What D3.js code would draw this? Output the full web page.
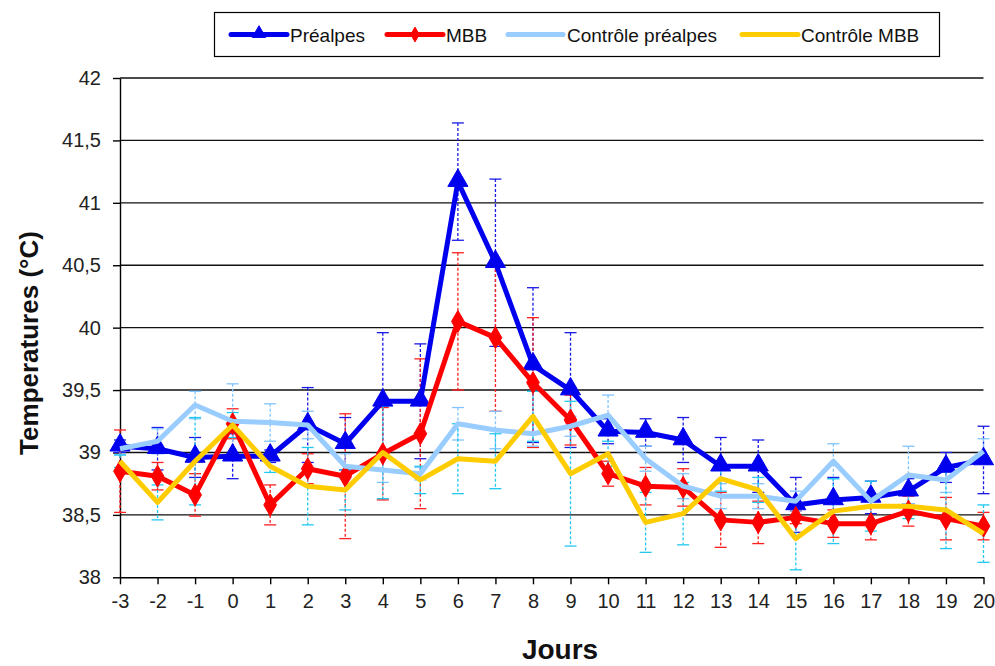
<!DOCTYPE html>
<html>
<head>
<meta charset="utf-8">
<script src="https://cdn.jsdelivr.net/npm/d3@7"></script>
<style>
  html, body { margin: 0; padding: 0; background: #fff; }
  svg { display: block; font-family: "Liberation Sans", Arial, sans-serif; }
</style>
</head>
<body>
<svg id="chart" width="995" height="666"></svg>
<script>
// Days relative to the event
const days = [-3, -2, -1, 0, 1, 2, 3, 4, 5, 6, 7, 8, 9, 10, 11, 12, 13, 14, 15, 16, 17, 18, 19, 20];

// Mean temperatures (°C) and their standard deviations
const prealpes    = [39.05, 39.03, 38.96, 38.97, 38.97, 39.22, 39.07, 39.41, 39.41, 41.17, 40.52, 39.70, 39.50, 39.17, 39.16, 39.10, 38.89, 38.89, 38.58, 38.62, 38.64, 38.69, 38.88, 38.94];
const prealpesErr = [0.05, 0.17, 0.16, 0.18, 0.05, 0.30, 0.21, 0.55, 0.46, 0.47, 0.67, 0.62, 0.46, 0.10, 0.11, 0.18, 0.23, 0.21, 0.22, 0.18, 0.13, 0.10, 0.12, 0.27];

const mbb    = [38.85, 38.81, 38.66, 39.23, 38.58, 38.87, 38.81, 38.99, 39.15, 40.05, 39.92, 39.56, 39.26, 38.83, 38.73, 38.72, 38.46, 38.44, 38.48, 38.43, 38.43, 38.53, 38.47, 38.41];
const mbbErr = [0.33, 0.11, 0.17, 0.12, 0.16, 0.12, 0.50, 0.37, 0.60, 0.55, 0.59, 0.52, 0.20, 0.10, 0.15, 0.15, 0.22, 0.17, 0.05, 0.11, 0.13, 0.12, 0.17, 0.11];

const ctrlPrealpes    = [39.03, 39.09, 39.38, 39.25, 39.24, 39.22, 38.89, 38.86, 38.83, 39.23, 39.18, 39.15, 39.21, 39.30, 38.95, 38.73, 38.65, 38.65, 38.61, 38.93, 38.61, 38.82, 38.78, 39.01];
const ctrlPrealpesErr = [0.05, 0.10, 0.11, 0.30, 0.15, 0.11, 0.10, 0.10, 0.05, 0.13, 0.15, 0.10, 0.08, 0.16, 0.10, 0.10, 0.10, 0.10, 0.08, 0.14, 0.05, 0.23, 0.10, 0.10];

const ctrlMbb    = [38.93, 38.60, 38.93, 39.22, 38.89, 38.73, 38.70, 39.00, 38.78, 38.95, 38.93, 39.29, 38.83, 38.99, 38.44, 38.51, 38.79, 38.70, 38.31, 38.53, 38.57, 38.57, 38.54, 38.35];
const ctrlMbbErr = [0.05, 0.14, 0.35, 0.10, 0.05, 0.31, 0.16, 0.37, 0.11, 0.28, 0.22, 0.20, 0.58, 0.10, 0.24, 0.25, 0.10, 0.10, 0.25, 0.26, 0.20, 0.10, 0.31, 0.23];

// Y-axis tick values and their French-formatted labels
const yTicks = [38, 38.5, 39, 39.5, 40, 40.5, 41, 41.5, 42];
const yTickLabels = ["38", "38,5", "39", "39,5", "40", "40,5", "41", "41,5", "42"];

const seriesNames = ["Préalpes", "MBB", "Contrôle préalpes", "Contrôle MBB"];

const series = [
  { name: seriesNames[0], values: prealpes, err: prealpesErr, color: "#0000ee", errColor: "#1a1ae6", marker: "triangle" },
  { name: seriesNames[1], values: mbb, err: mbbErr, color: "#ff0000", errColor: "#ff2020", marker: "diamond" },
  { name: seriesNames[2], values: ctrlPrealpes, err: ctrlPrealpesErr, color: "#99ccff", errColor: "#80c4ff", marker: null },
  { name: seriesNames[3], values: ctrlMbb, err: ctrlMbbErr, color: "#ffcc00", errColor: "#22c8f0", marker: null }
];

const svg = d3.select("#chart");
const plot = { left: 120, right: 983.5, top: 78, bottom: 577.3 };

const x = d3.scaleLinear().domain([d3.min(days), d3.max(days)]).range([plot.left, plot.right]);
const y = d3.scaleLinear().domain([38, 42]).range([plot.bottom, plot.top]);

// Horizontal gridlines
svg.append("g")
  .selectAll("line")
  .data(yTicks.filter(t => t > 38))
  .join("line")
  .attr("x1", plot.left).attr("x2", plot.right)
  .attr("y1", d => y(d)).attr("y2", d => y(d))
  .attr("stroke", "#111").attr("stroke-width", 1.4);

// Y axis
const yAxis = d3.axisLeft(y)
  .tickValues(yTicks)
  .tickFormat((d, i) => yTickLabels[i])
  .tickSizeInner(7).tickSizeOuter(0).tickPadding(12);
const gy = svg.append("g").attr("transform", `translate(${plot.left},0)`).call(yAxis);
gy.select(".domain").attr("stroke", "#000").attr("stroke-width", 1.4);
gy.selectAll(".tick line").attr("stroke", "#000").attr("stroke-width", 1.4);
gy.selectAll(".tick text").attr("font-size", 20).attr("fill", "#222")
  .attr("font-family", "'Liberation Sans', Arial, sans-serif");

// X axis (plain hyphen for negative days)
const xAxis = d3.axisBottom(x)
  .tickValues(days)
  .tickFormat(d => String(d))
  .tickSizeInner(7).tickSizeOuter(0).tickPadding(10);
const gx = svg.append("g").attr("transform", `translate(0,${plot.bottom})`).call(xAxis);
gx.select(".domain").attr("stroke", "#000").attr("stroke-width", 1.4);
gx.selectAll(".tick line").attr("stroke", "#000").attr("stroke-width", 1.4);
gx.selectAll(".tick text").attr("font-size", 20).attr("fill", "#222")
  .attr("font-family", "'Liberation Sans', Arial, sans-serif");

// Error bars (dashed, with caps)
const capHalf = 6;
series.forEach(s => {
  const g = svg.append("g").attr("stroke", s.errColor).attr("stroke-width", 1.3).attr("fill", "none");
  days.forEach((d, i) => {
    const cx = x(d);
    const hi = y(s.values[i] + s.err[i]);
    const lo = y(s.values[i] - s.err[i]);
    g.append("line").attr("x1", cx).attr("x2", cx).attr("y1", hi).attr("y2", lo)
      .attr("stroke-dasharray", "3,2");
    g.append("line").attr("x1", cx - capHalf).attr("x2", cx + capHalf).attr("y1", hi).attr("y2", hi);
    g.append("line").attr("x1", cx - capHalf).attr("x2", cx + capHalf).attr("y1", lo).attr("y2", lo);
  });
});

const line = d3.line().x((d, i) => x(days[i])).y(d => y(d));

function drawMarker(g, kind, cx, cy, color, scale) {
  if (!kind) return;
  const k = scale || 1;
  const p = kind === "triangle"
    ? d3.symbol().type(d3.symbolTriangle).size(175 * k)()
    : d3.symbol().type(d3.symbolDiamond).size(140 * k)();
  g.append("path").attr("d", p)
    .attr("transform", `translate(${cx},${cy - (kind === "triangle" ? 1 : 0)})`)
    .attr("fill", color).attr("stroke", color).attr("stroke-width", 1);
}

// Series lines and markers
series.forEach(s => {
  const g = svg.append("g");
  g.append("path").datum(s.values)
    .attr("d", line)
    .attr("fill", "none")
    .attr("stroke", s.color)
    .attr("stroke-width", 5)
    .attr("stroke-linejoin", "round");
  s.values.forEach((v, i) => drawMarker(g, s.marker, x(days[i]), y(v), s.color));
});

// Axis titles
svg.append("text")
  .attr("x", 560).attr("y", 659)
  .attr("text-anchor", "middle")
  .attr("font-size", 28).attr("font-weight", "bold").attr("fill", "#111")
  .text("Jours");

svg.append("text")
  .attr("transform", `translate(38,343) rotate(-90)`)
  .attr("text-anchor", "middle")
  .attr("font-size", 26).attr("font-weight", "bold").attr("fill", "#111")
  .text("Temperatures (°C)");

// Legend
const legend = svg.append("g");
legend.append("rect")
  .attr("x", 214.5).attr("y", 12.5).attr("width", 725).attr("height", 44)
  .attr("fill", "#fff").attr("stroke", "#000").attr("stroke-width", 1.2);

const legendItems = [
  { s: series[0], x1: 231, x2: 287, tx: 290 },
  { s: series[1], x1: 387, x2: 443, tx: 446 },
  { s: series[2], x1: 508, x2: 563, tx: 567 },
  { s: series[3], x1: 742, x2: 798, tx: 801 }
];
legendItems.forEach(it => {
  const ly = 34.5;
  legend.append("line")
    .attr("x1", it.x1).attr("x2", it.x2).attr("y1", ly).attr("y2", ly)
    .attr("stroke", it.s.color).attr("stroke-width", 5).attr("stroke-linecap", "round");
  drawMarker(legend, it.s.marker, (it.x1 + it.x2) / 2, ly, it.s.color, 0.45);
  legend.append("text")
    .attr("x", it.tx).attr("y", ly + 7)
    .attr("font-size", 19).attr("fill", "#111")
    .text(it.s.name);
});
</script>
</body>
</html>
